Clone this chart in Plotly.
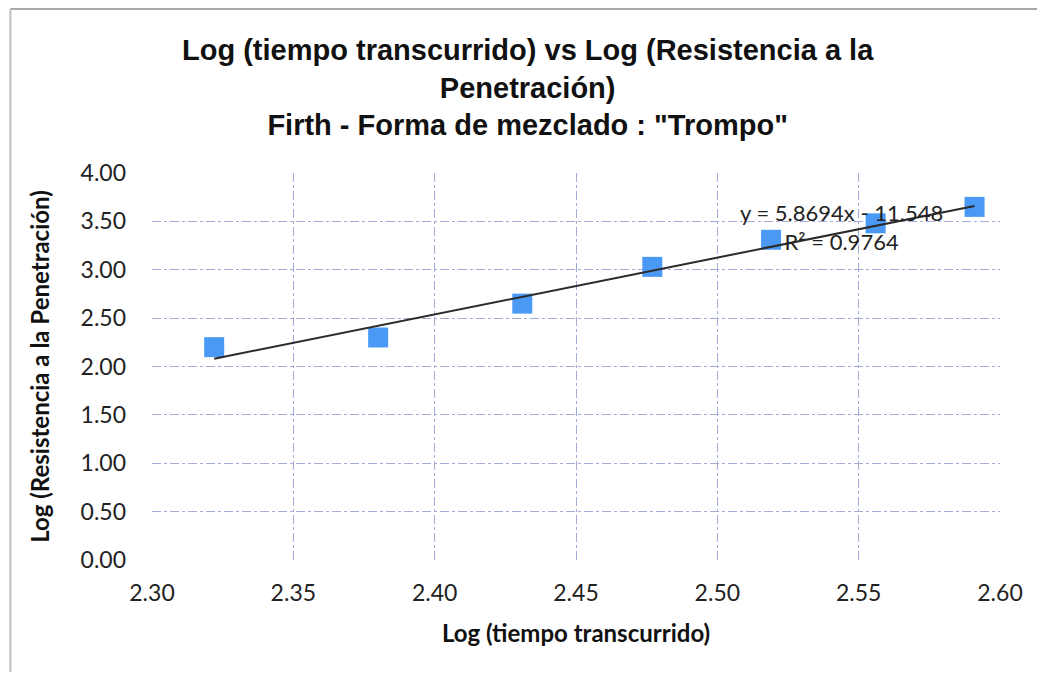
import plotly.graph_objects as go

# Data
log_tiempo = [2.322, 2.380, 2.431, 2.477, 2.519, 2.556, 2.591]
log_resistencia = [2.20, 2.30, 2.65, 3.03, 3.31, 3.48, 3.65]
slope = 5.8694
intercept = -11.548
r2 = 0.9764

x_ticks = [2.30, 2.35, 2.40, 2.45, 2.50, 2.55, 2.60]
y_ticks = [0.0, 0.5, 1.0, 1.5, 2.0, 2.5, 3.0, 3.5, 4.0]

title_text = ("<b>Log (tiempo transcurrido) vs Log (Resistencia a la<br>"
              "Penetración)<br>Firth - Forma de mezclado : \"Trompo\"</b>")
x_title = "<b>Log (tiempo transcurrido)</b>"
y_title = "<b>Log (Resistencia a la Penetración)</b>"

trend_x = [min(log_tiempo), max(log_tiempo)]
trend_y = [slope * v + intercept for v in trend_x]

fig = go.Figure()
fig.add_trace(go.Scatter(
    x=log_tiempo, y=log_resistencia, mode="markers",
    marker=dict(symbol="square", size=20, color="#4a9af5",
                line=dict(width=0)),
    showlegend=False))
fig.add_trace(go.Scatter(
    x=trend_x, y=trend_y, mode="lines",
    line=dict(color="#2b2b2b", width=2), showlegend=False))

fig.add_annotation(
    x=0.8125, y=0.86, xref="paper", yref="paper",
    xanchor="center", yanchor="middle",
    text=f"y = {slope}x - {abs(intercept)}<br>R² = {r2}",
    showarrow=False, align="center",
    font=dict(family="Lato", size=22, color="#222222"))

# chart title
fig.add_annotation(
    x=0.443, y=1.222, xref="paper", yref="paper",
    xanchor="center", yanchor="middle",
    text=title_text, showarrow=False, align="center",
    font=dict(family="Liberation Sans", size=29, color="#111111"))

grid = "#a3acd9"
fig.update_layout(
    width=1037, height=669,
    margin=dict(l=144, r=45, t=165, b=117),
    paper_bgcolor="white", plot_bgcolor="white",
    xaxis=dict(range=[2.30, 2.60], tickvals=x_ticks,
               ticktext=[f"{v:.2f}" for v in x_ticks],
               showgrid=True, gridcolor=grid, griddash="dashdot",
               gridwidth=1, zeroline=False, showline=False, ticks="",
               ticklabelstandoff=17,
               tickfont=dict(family="Lato", size=23, color="#222222"),
               title=dict(text=x_title, standoff=20,
                          font=dict(family="Lato", size=24, color="#111111"))),
    yaxis=dict(range=[0, 4.0], tickvals=y_ticks,
               ticktext=[f"{v:.2f}" for v in y_ticks],
               showgrid=True, gridcolor=grid, griddash="dashdot",
               gridwidth=1, zeroline=False, showline=False, ticks="",
               ticklabelstandoff=25,
               tickfont=dict(family="Lato", size=23, color="#222222"),
               title=dict(text=y_title, standoff=24,
                          font=dict(family="Lato", size=24, color="#111111"))),
)

# outer chart frame (top and left edges visible in reference)
fig.add_shape(type="line", xref="paper", yref="paper",
              x0=-0.167, x1=1.06, y0=1.424, y1=1.424,
              line=dict(color="#a8a8a8", width=2))
fig.add_shape(type="line", xref="paper", yref="paper",
              x0=-0.167, x1=-0.167, y0=-0.29, y1=1.424,
              line=dict(color="#c0c0c0", width=2))

fig.write_html("out.html")
